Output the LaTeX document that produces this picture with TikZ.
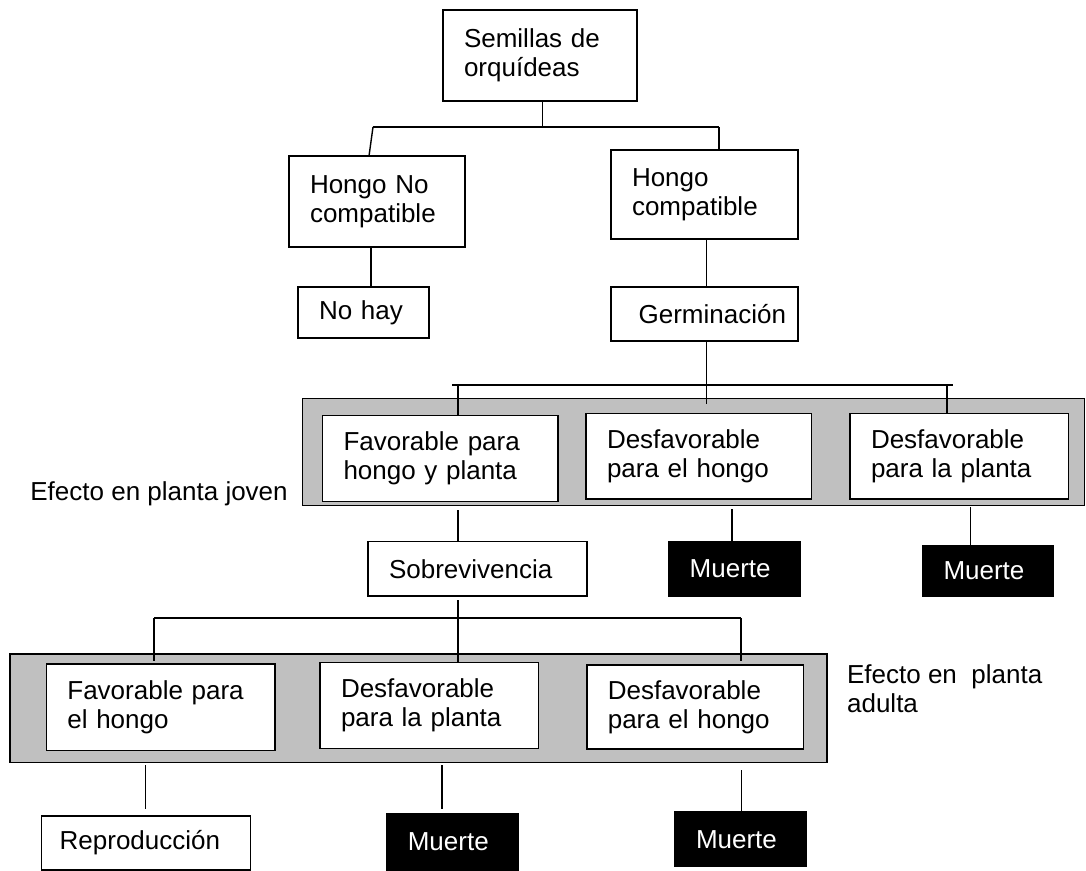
\documentclass[tikz,border=0pt]{standalone}
\usepackage{fontspec}
\setmainfont{Liberation Sans}
\definecolor{panelgris}{RGB}{192,192,192}
\tikzset{
  caja/.style={draw, fill=white, line width=0.7pt, anchor=north west, outer sep=0pt,
    align=left, inner xsep=10.5pt, inner ysep=0pt, font=\fontsize{13}{14.5}\selectfont},
  negra/.style={caja, fill=black, text=white},
  panel/.style={draw, fill=panelgris, line width=0.7pt},
  linea/.style={line width=0.7pt},
  rotulo/.style={anchor=north west, inner sep=0pt, font=\fontsize{13}{14.5}\selectfont}
}
\begin{document}
\begin{tikzpicture}[x=0.5pt, y=-0.5pt]
  \useasboundingbox (0,0) rectangle (1086,871);
  % paneles grises
  \draw[panel] (302.5,398.3) rectangle (1084.5,505.5);
  \draw[panel] (10,654) rectangle (827,762.3);
  % cajas
  \node[caja, text width=76pt, minimum height=45.5pt] (semillas) at (443,10) {Semillas de\\orquídeas};
  \node[caja, text width=67pt, minimum height=45.5pt] (nocomp) at (289,156) {Hongo No\\compatible};
  \node[caja, text width=72.5pt, minimum height=44.5pt] (comp) at (611,150) {Hongo\\compatible};
  \node[caja, text width=44.5pt, minimum height=25.5pt] (nohay) at (298,287) {No hay};
  \node[caja, align=right, inner xsep=6pt, text width=81.5pt, minimum height=27pt] (germ) at (611,287) {Germinación};
  \node[caja, text width=96.75pt, minimum height=43pt] (favjov) at (322.5,415.7) {Favorable para\\hongo y planta};
  \node[caja, text width=91.85pt, minimum height=42.85pt] (deshjov) at (586,413.3) {Desfavorable\\para el hongo};
  \node[caja, text width=88.35pt, minimum height=42.85pt] (despjov) at (850,413.3) {Desfavorable\\para la planta};
  \node[caja, text width=88.4pt, minimum height=27.15pt] (sobrev) at (368,541.7) {Sobrevivencia};
  \node[negra, text width=44.9pt, minimum height=27.15pt] (muerte1) at (668.7,541.7) {Muerte};
  \node[negra, text width=44.55pt, minimum height=25.15pt] (muerte2) at (922.5,545.7) {Muerte};
  \node[caja, text width=93.3pt, minimum height=43.35pt] (favad) at (46.4,664) {Favorable para\\el hongo};
  \node[caja, text width=88.3pt, minimum height=43pt] (despad) at (320,662.3) {Desfavorable\\para la planta};
  \node[caja, text width=87.3pt, minimum height=42pt] (deshad) at (586.8,665) {Desfavorable\\para el hongo};
  \node[caja, inner xsep=9pt, text width=86.5pt, minimum height=27pt] (repro) at (41.7,816) {Reproducción};
  \node[negra, text width=44.6pt, minimum height=28pt] (muerte3) at (386.8,814) {Muerte};
  \node[negra, text width=44.85pt, minimum height=27.5pt] (muerte4) at (675,811.7) {Muerte};
  % rotulos
  \node[rotulo, anchor=base west] (joven) at (30,500) {Efecto en planta joven};
  \node[rotulo, align=left] (adulta) at (846.7,664) {Efecto en\ \ planta\\adulta};
  % semillas
  \coordinate (b1l) at (373,127);
  \coordinate (b1r) at (719,127);
  \draw[linea] ([xshift=1.3pt]semillas.south) -- ([xshift=1.3pt]semillas.south |- b1l);
  \draw[linea] (b1l) -- (b1r);
  \draw[linea] (b1l) -- ([xshift=-4pt]nocomp.north);
  \draw[linea] (b1r) -- (b1r |- comp.north);
  \draw[linea] ([xshift=-3pt]nocomp.south) -- ([xshift=-3pt]nocomp.south |- nohay.north);
  \draw[linea] ([xshift=1pt]comp.south) -- ([xshift=1pt]comp.south |- germ.north);
  % planta joven
  \coordinate (b2l) at (452,385);
  \coordinate (b2r) at (953,385);
  \coordinate (g1) at (706.6,404);
  \coordinate (t2a) at (458,385);
  \coordinate (t2c) at (947,385);
  \draw[linea] (b2l) -- (b2r);
  \draw[linea] (germ.south -| g1) -- (g1);
  \draw[linea] (t2a) -- (t2a |- favjov.north);
  \draw[linea] (t2c) -- (t2c |- despjov.north);
  \coordinate (s1) at (458,510);
  \coordinate (m1) at (732,509);
  \coordinate (m2) at (970.5,507);
  \draw[linea] (s1) -- (s1 |- sobrev.north);
  \draw[linea] (m1) -- (m1 |- muerte1.north);
  \draw[linea] (m2) -- (m2 |- muerte2.north);
  % planta adulta
  \coordinate (b3l) at (154,618);
  \coordinate (b3c) at (458,618);
  \coordinate (b3r) at (741,618);
  \draw[linea, shorten <=2pt] (sobrev.south -| b3c) -- (b3c);
  \draw[linea] (b3l) -- (b3r);
  \draw[linea, shorten >=1.5pt] (b3l) -- (b3l |- favad.north);
  \draw[linea] (b3c) -- (b3c |- despad.north);
  \draw[linea, shorten >=2pt] (b3r) -- (b3r |- deshad.north);
  \coordinate (r1) at (145.7,765);
  \coordinate (r3) at (441.8,765);
  \coordinate (r4) at (741.3,770);
  \draw[linea, shorten >=3.5pt] (r1) -- (r1 |- repro.north);
  \draw[linea, shorten >=2.5pt] (r3) -- (r3 |- muerte3.north);
  \draw[linea] (r4) -- (r4 |- muerte4.north);
\end{tikzpicture}
\end{document}
